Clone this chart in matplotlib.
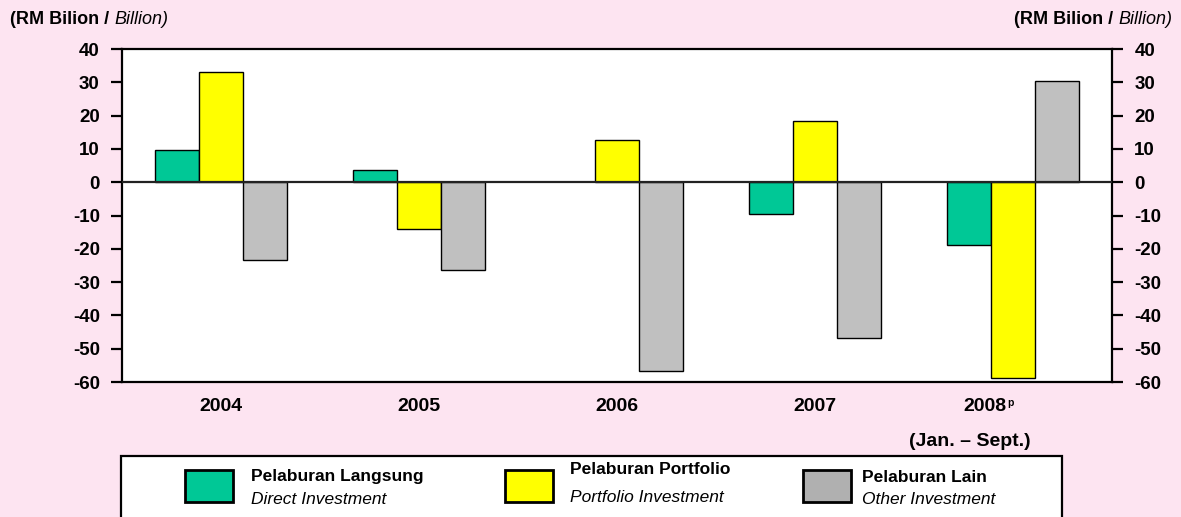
import matplotlib
matplotlib.use("Agg")
import matplotlib.pyplot as plt
from matplotlib.patches import Rectangle
import numpy as np

years = ["2004", "2005", "2006", "2007", "2008"]
direct = [9.6, 3.8, 0.0, -9.4, -19.0]
portfolio = [33.1, -14.1, 12.6, 18.3, -58.9]
other = [-23.4, -26.5, -56.6, -46.9, 30.3]

series_names = [("Pelaburan Langsung", "Direct Investment"),
                ("Pelaburan Portfolio", "Portfolio Investment"),
                ("Pelaburan Lain", "Other Investment")]
colors = ["#00C896", "#FFFF00", "#C0C0C0"]

plt.rcParams['font.family'] = ['Liberation Sans Narrow', 'Liberation Sans', 'DejaVu Sans']
plt.rcParams['axes.unicode_minus'] = False
bg = "#FDE4F1"
H = 517.0
W = 1181.0

fig = plt.figure(figsize=(11.81, 5.17), dpi=100)
fig.patch.set_facecolor(bg)
ax = fig.add_axes([0.1033, 0.2611, 0.8383, 0.6441])
ax.set_facecolor("white")

x = np.arange(len(years))
w = 0.222
for i, vals in enumerate([direct, portfolio, other]):
    vals = np.array(vals)
    keep = vals != 0
    ax.bar((x + (i - 1) * w)[keep], vals[keep], w, color=colors[i], edgecolor="black",
           linewidth=1.0, zorder=2)

ax.axhline(0, color="#222222", linewidth=1.6, zorder=3)
ax.set_xlim(-0.5, 4.5)
ax.set_ylim(-60, 40)
ax.set_yticks(range(-60, 41, 10))
ax.set_xticks([])
for s in ax.spines.values():
    s.set_linewidth(1.6)
ax.tick_params(axis="y", direction="out", length=8, width=1.6, left=True, right=True,
               labelleft=True, labelright=True, labelsize=13.5, pad=8)
for lab in ax.get_yticklabels():
    lab.set_fontweight("bold")

for i, yr in enumerate(years[:-1]):
    ax.text(i, -67.5, yr, ha="center", va="center", fontsize=14, fontweight="bold", clip_on=False)
ax.text(3.86, -67.5, "2008", ha="center", va="center", fontsize=14, fontweight="bold", clip_on=False)
ax.text(3.985, -66.2, "p", ha="center", va="center", fontsize=7.5, fontweight="bold", clip_on=False)
ax.text(3.78, -77.8, "(Jan. \u2013 Sept.)", ha="center", va="center", fontsize=14,
        fontweight="bold", clip_on=False)

# unit labels (bold part + italic part)
renderer = fig.canvas.get_renderer()
y_unit = 1 - 20 / H
t1 = fig.text(10 / W, y_unit, "(RM Bilion / ", fontsize=13, fontweight="bold", va="center")
bb = t1.get_window_extent(renderer)
fig.text(bb.x1 / W, y_unit, "Billion)", fontsize=13, style="italic", va="center")
t2 = fig.text(1172 / W, y_unit, "Billion)", fontsize=13, style="italic", va="center", ha="right")
bb2 = t2.get_window_extent(renderer)
fig.text(bb2.x0 / W, y_unit, "(RM Bilion / ", fontsize=13, fontweight="bold", va="center", ha="right")

# legend box
fig.patches.append(Rectangle((121 / W, -0.05), (1062 - 121) / W, (1 - 456 / H) + 0.05,
                             transform=fig.transFigure, facecolor="white", edgecolor="black",
                             linewidth=1.6, zorder=1))
patch_x = [185, 505, 803]
text_x = [251, 570, 862]
name_y = [476, 470, 477]
en_y = [500, 497, 500]
leg_colors = ["#00C896", "#FFFF00", "#B0B0B0"]
for px, tx, ny, ey, c, (nm, en) in zip(patch_x, text_x, name_y, en_y, leg_colors, series_names):
    fig.patches.append(Rectangle((px / W, 1 - 502 / H), 48 / W, 32 / H, transform=fig.transFigure,
                                 facecolor=c, edgecolor="black", linewidth=2, zorder=2))
    fig.text(tx / W, 1 - ny / H, nm, fontsize=12.5, fontweight="bold", va="center", zorder=3)
    fig.text(tx / W, 1 - ey / H, en, fontsize=12.5, style="italic", va="center", zorder=3)

fig.savefig("out.png", dpi=100, facecolor=bg)
